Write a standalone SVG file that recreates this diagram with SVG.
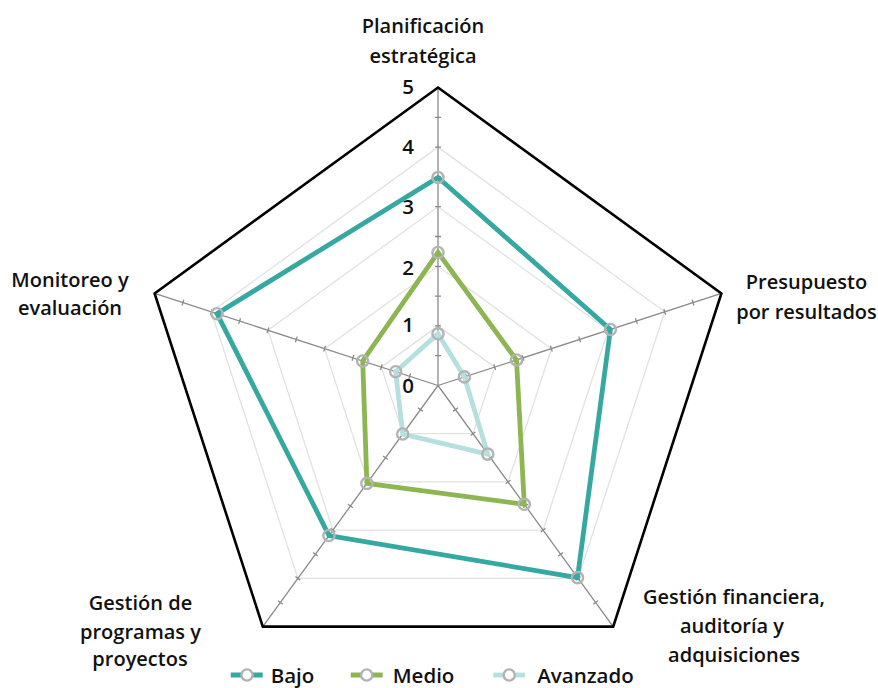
<svg xmlns="http://www.w3.org/2000/svg" xmlns:xlink="http://www.w3.org/1999/xlink" width="878" height="688" viewBox="0 0 878 688">
<style>
text{font-family:"Open Sans","Noto Sans","Liberation Sans",sans-serif;font-weight:600;fill:#111;}
.lbl{font-size:20px;text-anchor:middle;}
.num{font-size:20.5px;text-anchor:middle;}
.leg{font-size:20.5px;}
.grid{fill:none;stroke:#e2e2e2;stroke-width:1.3;}
.outer{fill:none;stroke:#000;stroke-width:2.6;stroke-linejoin:miter;}
.axis{fill:none;stroke:#8a8a8a;stroke-width:1.3;}
.ser{fill:none;stroke-width:4.8;stroke-linejoin:miter;}
.mk{fill:none;stroke:#b3b3b3;stroke-width:2.4;}
.bajo{stroke:#35a8a1;}
.medio{stroke:#8db652;}
.avz{stroke:#b5e0df;}
</style>
<defs>
<path id="ax" d="M438 385.5V87.5M435 355.7h6M435 325.9h6M435 296.1h6M435 266.3h6M435 236.5h6M435 206.7h6M435 176.9h6M435 147.1h6M435 117.3h6"/>
<circle id="m" r="5.6"/>
</defs>
<rect width="878" height="688" fill="#fff"/>
<g id="grid" class="grid">
<polygon points="438,325.9 494.7,367.1 473,433.7 403,433.7 381.3,367.1"/>
<polygon points="438,266.3 551.4,348.7 508.1,481.9 367.9,481.9 324.6,348.7"/>
<polygon points="438,206.7 608.1,330.3 543.1,530.2 332.9,530.2 267.9,330.3"/>
<polygon points="438,147.1 664.7,311.8 578.1,578.4 297.9,578.4 211.3,311.8"/>
</g>
<g id="axes" class="axis">
<use xlink:href="#ax"/>
<use xlink:href="#ax" transform="rotate(72 438 385.5)"/>
<use xlink:href="#ax" transform="rotate(144 438 385.5)"/>
<use xlink:href="#ax" transform="rotate(216 438 385.5)"/>
<use xlink:href="#ax" transform="rotate(288 438 385.5)"/>
</g>
<polygon id="outer" class="outer" points="438,87.5 721.4,293.4 613.2,626.6 262.8,626.6 154.6,293.4"/>
<g id="scale">
<text class="num" x="408" y="94">5</text>
<text class="num" x="408" y="153.5">4</text>
<text class="num" x="408" y="213.5">3</text>
<text class="num" x="408" y="274.5">2</text>
<text class="num" x="408" y="331.5">1</text>
<text class="num" x="408" y="393">0</text>
</g>
<g id="series-bajo">
<polygon class="ser bajo" points="438,177.5 610.4,329.5 577.5,577.6 329,535.5 217,313.7"/>
<g class="mk"><use xlink:href="#m" x="438" y="177.5"/><use xlink:href="#m" x="610.4" y="329.5"/><use xlink:href="#m" x="577.5" y="577.6"/><use xlink:href="#m" x="329" y="535.5"/><use xlink:href="#m" x="217" y="313.7"/></g>
</g>
<g id="series-medio">
<polygon class="ser medio" points="438,252.5 516.5,360 524.3,504.3 366.9,483.4 362.7,361"/>
<g class="mk"><use xlink:href="#m" x="438" y="252.5"/><use xlink:href="#m" x="516.5" y="360"/><use xlink:href="#m" x="524.3" y="504.3"/><use xlink:href="#m" x="366.9" y="483.4"/><use xlink:href="#m" x="362.7" y="361"/></g>
</g>
<g id="series-avanzado">
<polygon class="ser avz" points="438,333.8 464.4,376.9 487.8,454.1 402.7,434 395.7,371.7"/>
<g class="mk"><use xlink:href="#m" x="438" y="333.8"/><use xlink:href="#m" x="464.4" y="376.9"/><use xlink:href="#m" x="487.8" y="454.1"/><use xlink:href="#m" x="402.7" y="434"/><use xlink:href="#m" x="395.7" y="371.7"/></g>
</g>
<g id="label-planificacion"><text class="lbl" x="423" y="32.5">Planificación</text><text class="lbl" x="423" y="62.5">estratégica</text></g>
<g id="label-presupuesto"><text class="lbl" x="806.5" y="288.5">Presupuesto</text><text class="lbl" x="806.5" y="318.5">por resultados</text></g>
<g id="label-financiera"><text class="lbl" x="734" y="603.5">Gestión financiera,</text><text class="lbl" x="732" y="633">auditoría y</text><text class="lbl" x="734" y="662">adquisiciones</text></g>
<g id="label-programas"><text class="lbl" x="140.5" y="609.5">Gestión de</text><text class="lbl" x="140.5" y="638.5">programas y</text><text class="lbl" x="140" y="665.5">proyectos</text></g>
<g id="label-monitoreo"><text class="lbl" x="70" y="287">Monitoreo y</text><text class="lbl" x="70" y="315">evaluación</text></g>
<g id="legend">
<line class="ser bajo" x1="230.7" y1="675" x2="262.7" y2="675"/><circle class="mk" cx="247" cy="675" r="5.6" style="fill:#fff"/><text class="leg" x="270.7" y="683.3">Bajo</text>
<line class="ser medio" x1="350.7" y1="675" x2="382.7" y2="675"/><circle class="mk" cx="366.7" cy="675" r="5.6" style="fill:#fff"/><text class="leg" x="392.7" y="683.3">Medio</text>
<line class="ser avz" x1="493.3" y1="675" x2="525" y2="675"/><circle class="mk" cx="509.2" cy="675" r="5.6" style="fill:#fff"/><text class="leg" x="537.3" y="683.3">Avanzado</text>
</g>
</svg>
